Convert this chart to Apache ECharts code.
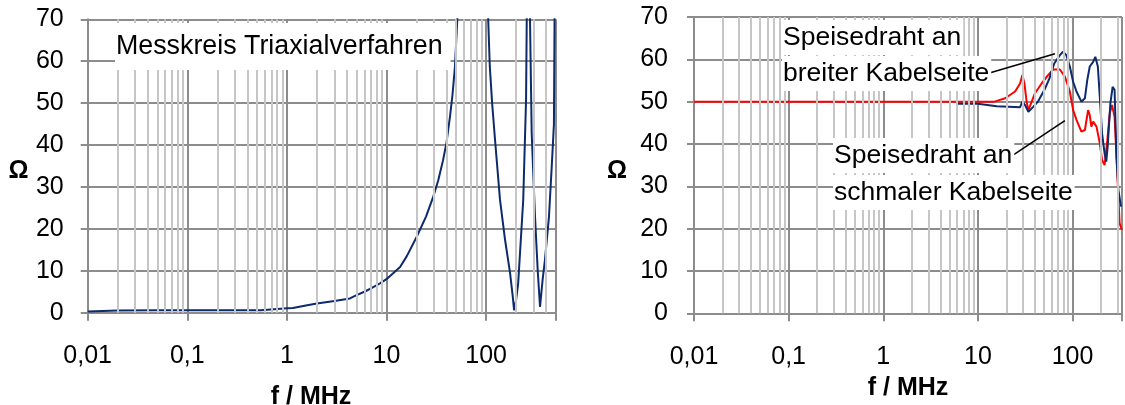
<!DOCTYPE html>
<html>
<head>
<meta charset="utf-8">
<script src="https://cdn.jsdelivr.net/npm/echarts@6/dist/echarts.min.js"></script>
<style>
html,body{margin:0;padding:0;background:#fff;}
#c{width:1125px;height:405px;}
</style>
</head>
<body>
<div id="c"></div>
<script>
// ---- tick labels ----
const xTickValues = [0.01, 0.1, 1, 10, 100];
const xTickLabels = ['0,01', '0,1', '1', '10', '100'];
const xTitle = 'f / MHz';
const yTitle = 'Ω';

// ---- left chart: Messkreis Triaxialverfahren ----
const triaxFreq = [0.01, 0.02, 0.05, 0.1, 0.3, 0.55, 0.57, 1.0, 1.15, 1.2, 1.6, 2.0, 3.0, 4.3, 5, 6, 7, 8.6, 10, 13.7, 16, 20, 25, 29.5, 33, 37, 40, 43.4, 46, 48.7, 51.4, 53, 75,
  105, 109, 115, 123, 138, 155, 174, 185, 191, 200, 210, 236, 252, 256, 265, 276, 287, 310, 330, 348, 370, 390, 428, 456, 480, 490, 500];
const triaxOhm = [0.3, 0.5, 0.6, 0.6, 0.6, 0.6, 1.0, 1.05, 1.1, 1.5, 1.8, 2.2, 2.8, 3.4, 4.2, 5, 5.8, 7.0, 8, 10.9, 13.5, 18, 23, 27.7, 31.5, 36.4, 40.5, 46.8, 52, 58.7, 70, 80, 300,
  70, 58.7, 50, 41.2, 26.9, 17.4, 9.5, 4, 0.6, 3, 7, 26.9, 50.8, 70, 120, 70, 42.8, 22.9, 10, 1.4, 8, 12.6, 22.9, 34.8, 45, 80, 120];

// ---- right chart ----
const breitFreq = [6, 10, 10.2, 15.8, 16.5, 27.9, 29.5, 31.5, 34.1, 38.2, 43, 50.5, 57, 64, 73.5, 79.3, 86, 93.6, 101.4, 110, 124, 135, 143, 152, 165, 174, 185, 194, 205, 218, 227, 235, 251, 265, 278, 291, 305, 325];
const breitOhm = [49.5, 49.5, 49.2, 48.9, 48.7, 48.7, 50, 49.2, 47.6, 48.7, 50, 52.8, 55.5, 59, 61, 61.8, 61, 58.3, 54.7, 52.4, 50, 50.8, 55.1, 58.3, 59.4, 60.6, 58.3, 51.2, 42.5, 37.8, 35.8, 39.4, 49.6, 53.5, 52.8, 37, 29.1, 25.2];

const schmalFreq = [0.01, 15, 15.2, 19.4, 24.7, 27.9, 29.5, 31, 32.7, 34.1, 37, 40.1, 47.1, 55.4, 62.5, 73.5, 83, 93.6, 101.4, 110, 124, 135, 146, 152, 158, 165, 179, 194, 205, 218, 233, 247, 261, 278, 296, 314, 332];
const schmalOhm = [50, 50, 50.4, 50.8, 52.4, 54.3, 56.3, 54.3, 50, 48, 50, 52, 54.3, 56.3, 57.6, 57.6, 55.9, 52.4, 48, 45.7, 42.9, 43.3, 48, 46.8, 44.1, 45.3, 44.1, 40.2, 36.2, 35, 40.9, 47.2, 49.2, 46.4, 33.9, 21.3, 19.7];

// leader lines of the annotations (data coordinates)
const leaderBreit = [[12.96, 56.7], [65.2, 61.3]];
const leaderSchmal = [[23.7, 37.4], [83, 45.5]];

const zip = (a, b) => a.map((v, i) => [v, b[i]]);

function minorValues(maxV) {
  const out = [];
  for (let d = 0.01; d < maxV; d *= 10) {
    for (let k = 2; k <= 9; k++) {
      const v = +(d * k).toPrecision(6);
      if (v < maxV) out.push(v);
    }
  }
  return out;
}

const FONT = 'Liberation Sans, Arial, sans-serif';
const GRID_DARK = '#8c8c8c';
const GRID_LIGHT = '#c6c6c6';
const BLUE = '#0c2a6c';
const RED = '#ff0000';

function xAxisCfg(gi, maxV, margin) {
  return {
    type: 'log', logBase: 10, gridIndex: gi, min: 0.01, max: maxV,
    axisLine: {show: true, lineStyle: {color: GRID_DARK, width: 2}},
    axisTick: {show: true, length: 8, lineStyle: {color: GRID_DARK, width: 2}},
    splitLine: {show: true, lineStyle: {color: GRID_DARK, width: 2}},
    axisLabel: {
      fontFamily: FONT, fontSize: 25, color: '#000', margin: margin,
      formatter: function (v) {
        const i = xTickValues.findIndex(t => Math.abs(Math.log10(v) - Math.log10(t)) < 1e-6);
        return i >= 0 ? xTickLabels[i] : '';
      }
    }
  };
}
function yAxisCfg(gi, margin) {
  return {
    type: 'value', gridIndex: gi, min: 0, max: 70, interval: 10,
    axisLine: {show: true, lineStyle: {color: GRID_DARK, width: 2}},
    axisTick: {show: true, length: 7, lineStyle: {color: GRID_DARK, width: 2}},
    splitLine: {show: true, lineStyle: {color: GRID_DARK, width: 2}},
    axisLabel: {fontFamily: FONT, fontSize: 25, color: '#000', margin: margin}
  };
}
function minorSeries(gi, maxV) {
  return {
    type: 'line', xAxisIndex: gi, yAxisIndex: gi, data: [], z: 1, silent: true,
    markLine: {
      silent: true, symbol: 'none', animation: false,
      label: {show: false},
      lineStyle: {color: GRID_LIGHT, width: 2, type: 'solid'},
      emphasis: {disabled: true},
      data: minorValues(maxV).map(v => ({xAxis: v}))
    }
  };
}
function leader(coords) {
  return [{coord: coords[0]}, {coord: coords[1]}];
}
function label(text, left, top) {
  return {type: 'text', left: left, top: top, z: 100,
    style: {text: text, font: '26.5px ' + FONT, fill: '#000', backgroundColor: '#fff', padding: [4, 2, 4, 1]}};
}
function title(text, cx, cy) {
  return {type: 'text', x: cx, y: cy, z: 100,
    style: {text: text, font: 'bold 25px ' + FONT, fill: '#000', align: 'center', verticalAlign: 'middle'}};
}

const chart = echarts.init(document.getElementById('c'), null, {renderer: 'canvas'});
chart.setOption({
  animation: false,
  backgroundColor: '#fff',
  textStyle: {fontFamily: FONT},
  grid: [
    {left: 87.7, width: 468, top: 19.3, height: 293.4},
    {left: 694, width: 430, top: 17, height: 296.3}
  ],
  xAxis: [xAxisCfg(0, 500, 31), xAxisCfg(1, 333, 31)],
  yAxis: [yAxisCfg(0, 24), yAxisCfg(1, 26)],
  series: [
    minorSeries(0, 500),
    minorSeries(1, 333),
    {
      name: 'Messkreis Triaxialverfahren', type: 'line', xAxisIndex: 0, yAxisIndex: 0,
      data: zip(triaxFreq, triaxOhm), showSymbol: false, clip: true, z: 3,
      lineStyle: {color: BLUE, width: 2}, itemStyle: {color: BLUE}
    },
    {
      name: 'Speisedraht an schmaler Kabelseite', type: 'line', xAxisIndex: 1, yAxisIndex: 1,
      data: zip(schmalFreq, schmalOhm), showSymbol: false, clip: true, z: 3,
      lineStyle: {color: RED, width: 2}, itemStyle: {color: RED}
    },
    {
      name: 'Speisedraht an breiter Kabelseite', type: 'line', xAxisIndex: 1, yAxisIndex: 1,
      data: zip(breitFreq, breitOhm), showSymbol: false, clip: true, z: 4,
      lineStyle: {color: BLUE, width: 2}, itemStyle: {color: BLUE},
      markLine: {
        silent: true, symbol: 'none', animation: false, label: {show: false},
        lineStyle: {color: '#000', width: 1.5, type: 'solid'},
        emphasis: {disabled: true},
        data: [leader(leaderBreit), leader(leaderSchmal)]
      }
    }
  ],
  graphic: [
    {type: 'text', left: 115, top: 23, z: 100,
      style: {text: 'Messkreis Triaxialverfahren', font: '26.8px ' + FONT, fill: '#000',
        backgroundColor: '#fff', padding: [10, 8, 10, 1]}},
    label('Speisedraht an', 782, 20),
    label('breiter Kabelseite', 782, 56),
    label('Speisedraht an', 833, 138),
    label('schmaler Kabelseite', 833, 175),
    title(yTitle, 18.5, 171),
    title(yTitle, 617, 171),
    title(xTitle, 311, 397),
    title(xTitle, 908, 388)
  ]
});
</script>
</body>
</html>
